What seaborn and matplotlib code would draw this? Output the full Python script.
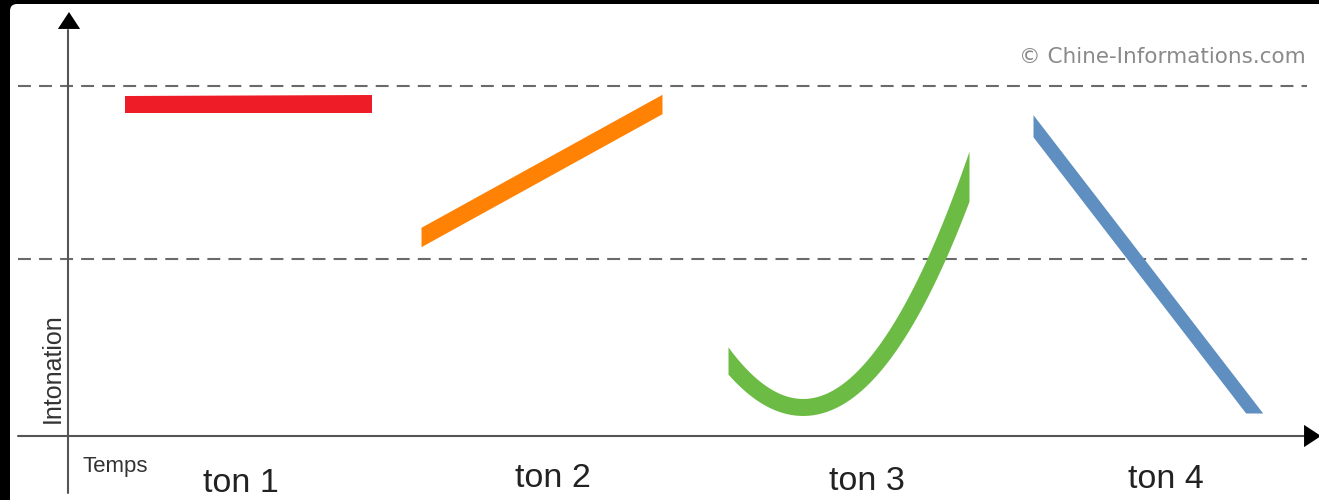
import numpy as np
import matplotlib
matplotlib.use('Agg')
import matplotlib.pyplot as plt
import seaborn as sns
from matplotlib.patches import FancyBboxPatch

# unités : 1 unité = 10 px, origine au croisement des axes
# ton 1 (plat, haut)
ton1_t = [5.7, 30.4]
ton1_p = [33.2, 33.2]
# ton 2 (montant)
ton2_t = [35.3, 59.4]
ton2_p = [19.9, 33.2]
# ton 3 (descendant puis montant)
ton3_t = [66.0, 73.2, 86.7, 90.1]
ton3_p = [7.6, 2.8, 17.7, 25.85]
# ton 4 (descendant)
ton4_t = [96.5, 106.8, 118.6]
ton4_p = [31.0, 17.7, 2.3]

tone_colors = ['#EE1C26', '#FF8205', '#6CBB45', '#5E8FC0']
tone_widths = [1.7, 1.7, 1.7, 1.35]

levels = [35.0, 17.7]
labels = ['ton 1', 'ton 2', 'ton 3', 'ton 4']
label_t = [17.25, 48.45, 79.85, 109.8]
label_p = [-5.6, -5.1, -5.4, -5.2]

sns.set_theme(style='white')
plt.rcParams['font.family'] = ['Liberation Sans', 'DejaVu Sans']

fig = plt.figure(figsize=(13.19, 5), dpi=100, facecolor='black')
ax = fig.add_axes([0, 0, 1, 1])
ax.set_xlim(-6.8, 125.1)
ax.set_ylim(-6.4, 43.6)
ax.axis('off')

# fond blanc arrondi
ax.add_patch(FancyBboxPatch((-5.8, -10), 140, 53.2,
                            boxstyle='round,pad=0,rounding_size=0.7',
                            fc='white', ec='none', zorder=0))

# lignes de niveau pointillées
for lv in levels:
    sns.lineplot(x=[-5.0, 123.9], y=[lv, lv], ax=ax, color='#6a6a6a',
                 linewidth=1.5, linestyle=(0, (6.2, 3.9)), zorder=1)

# axes
sns.lineplot(x=[-5.0, 123.6], y=[0, 0], ax=ax, color='#555555', linewidth=1.5, zorder=2)
sns.lineplot(x=[0, 0], y=[-5.7, 40.6], ax=ax, color='#555555', linewidth=1.5,
             orient='y', zorder=2)
head = dict(arrowstyle='-|>,head_length=0.61,head_width=0.4', mutation_scale=20,
            color='black', lw=0, shrinkA=0, shrinkB=0)
ax.annotate('', xy=(0.1, 42.4), xytext=(0.1, 40.6), arrowprops=head,
            annotation_clip=False, zorder=3)
ax.annotate('', xy=(125.3, 0), xytext=(123.6, 0), arrowprops=head,
            annotation_clip=False, zorder=3)


def band(t_pts, p_pts, width, color, deg=1, cut_floor=False):
    coef = np.polyfit(t_pts, p_pts, deg)
    dcoef = np.polyder(coef)
    t0, t1 = t_pts[0], t_pts[-1]
    if cut_floor:
        s = abs(np.polyval(dcoef, t1))
        t1 = t1 + width / 2 * np.sqrt(1 + s ** 2) / s
    n = 2 if (deg == 1 and not cut_floor) else 400
    tt = np.linspace(t0, t1, n)
    pp = np.polyval(coef, tt)
    h = width / 2 * np.sqrt(1 + np.polyval(dcoef, tt) ** 2)
    upper, lower = pp + h, pp - h
    if cut_floor:
        upper = np.maximum(upper, p_pts[-1])
        lower = np.maximum(lower, p_pts[-1])
    ax.fill_between(tt, lower, upper, color=color, lw=0, zorder=4)


band(ton1_t, ton1_p, tone_widths[0], tone_colors[0])
band(ton2_t, ton2_p, tone_widths[1], tone_colors[1])
band(ton3_t, ton3_p, tone_widths[2], tone_colors[2], deg=2)
band(ton4_t, ton4_p, tone_widths[3], tone_colors[3], cut_floor=True)

# textes
for lab, t, p in zip(labels, label_t, label_p):
    ax.text(t, p, lab, ha='center', va='baseline', fontsize=24.5, color='#222222')
ax.text(4.75, -3.6, 'Temps', ha='center', va='baseline', fontsize=16, color='#333333')
ax.text(-0.8, 6.75, 'Intonation', rotation=90, rotation_mode='anchor',
        ha='center', va='baseline', fontsize=18, color='#333333')
ax.text(123.8, 37.3, '\u00a9 Chine-Informations.com', ha='right', va='baseline',
        fontsize=15.5, color='#8a8a8a', family=['DejaVu Sans'])

fig.savefig('out.png', dpi=100, facecolor='black')
